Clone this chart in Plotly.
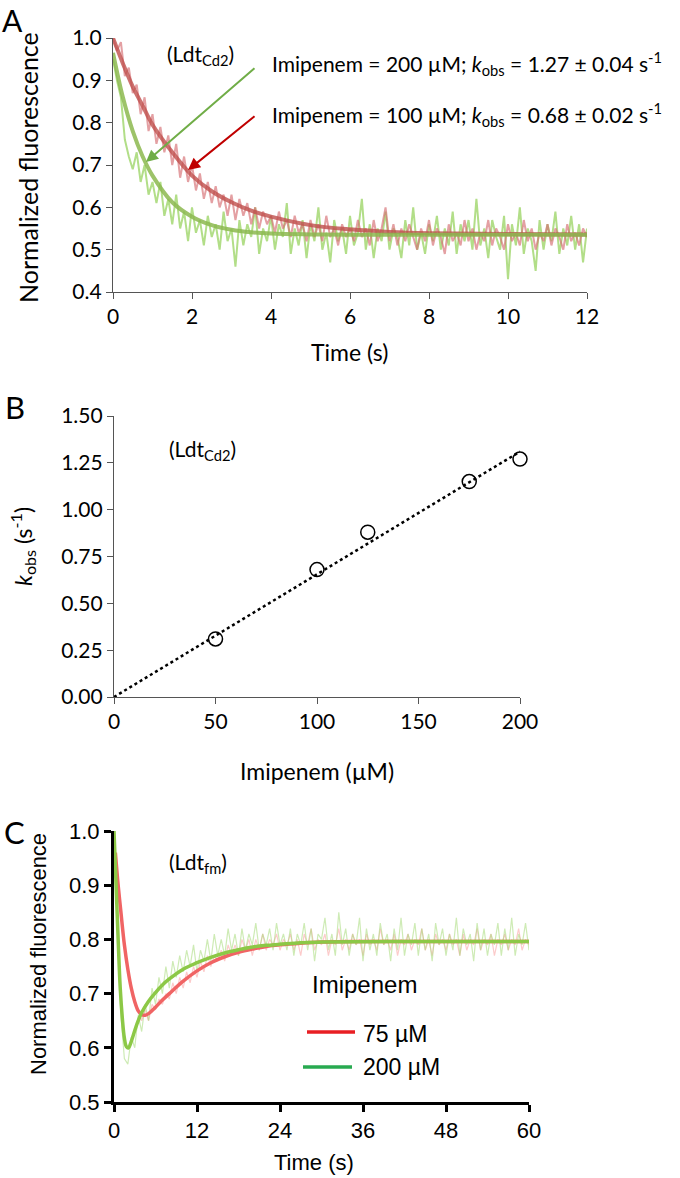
import numpy as np
import plotly.graph_objects as go

W, H = 680, 1178

# ---------------- Panel A data (LdtCd2 fluorescence decay) ----------------
a_time = np.round(np.linspace(0, 12, 121), 2)
a_raw_200 = [
    0.95, 0.90, 0.86, 0.76, 0.72, 0.69, 0.73, 0.66, 0.70, 0.63,
    0.66, 0.61, 0.66, 0.58, 0.62, 0.56, 0.63, 0.55, 0.59, 0.52,
    0.60, 0.54, 0.57, 0.51, 0.58, 0.53, 0.56, 0.50, 0.59, 0.52,
    0.55, 0.46, 0.57, 0.51, 0.56, 0.53, 0.60, 0.49, 0.55, 0.52,
    0.58, 0.50, 0.56, 0.53, 0.61, 0.49, 0.55, 0.51, 0.57, 0.48,
    0.56, 0.52, 0.60, 0.50, 0.54, 0.47, 0.57, 0.52, 0.55, 0.49,
    0.58, 0.51, 0.54, 0.62, 0.50, 0.56, 0.48, 0.55, 0.52, 0.59,
    0.50, 0.55, 0.53, 0.48, 0.57, 0.51, 0.60, 0.50, 0.54, 0.49,
    0.56, 0.52, 0.58, 0.50, 0.55, 0.51, 0.59, 0.49, 0.56, 0.52,
    0.57, 0.50, 0.62, 0.51, 0.55, 0.48, 0.57, 0.53, 0.50, 0.58,
    0.43, 0.56, 0.51, 0.60, 0.49, 0.55, 0.52, 0.45, 0.57, 0.50,
    0.56, 0.52, 0.59, 0.49, 0.55, 0.51, 0.58, 0.50, 0.56, 0.47,
    0.55,
]
a_raw_100 = [
    1.00, 0.97, 0.99, 0.91, 0.93, 0.87, 0.89, 0.82, 0.86, 0.78,
    0.82, 0.75, 0.79, 0.73, 0.77, 0.70, 0.75, 0.67, 0.72, 0.66,
    0.70, 0.64, 0.68, 0.62, 0.66, 0.61, 0.65, 0.60, 0.63, 0.58,
    0.63, 0.57, 0.62, 0.58, 0.61, 0.56, 0.60, 0.55, 0.59, 0.56,
    0.58, 0.54, 0.59, 0.55, 0.57, 0.53, 0.58, 0.54, 0.56, 0.52,
    0.57, 0.53, 0.56, 0.52, 0.58, 0.53, 0.55, 0.51, 0.56, 0.53,
    0.55, 0.52, 0.57, 0.53, 0.55, 0.51, 0.57, 0.52, 0.55, 0.60,
    0.52, 0.56, 0.51, 0.55, 0.52, 0.56, 0.53, 0.50, 0.55, 0.52,
    0.57, 0.51, 0.55, 0.53, 0.49, 0.56, 0.52, 0.54, 0.51, 0.57,
    0.52, 0.55, 0.50, 0.54, 0.52, 0.57, 0.51, 0.55, 0.53, 0.50,
    0.56, 0.52, 0.54, 0.51, 0.57, 0.52, 0.55, 0.50, 0.54, 0.52,
    0.56, 0.51, 0.55, 0.53, 0.50, 0.56, 0.52, 0.54, 0.51, 0.55,
    0.53,
]
a_fit_time_100 = [0, 0.25, 0.5, 0.75, 1, 1.5, 2, 2.5, 3, 3.5, 4, 5, 6, 7, 8, 10, 12]
a_fit_100 = [1.0, 0.94, 0.885, 0.84, 0.795, 0.73, 0.675, 0.638, 0.612, 0.592,
             0.578, 0.558, 0.548, 0.542, 0.539, 0.537, 0.536]
a_fit_time_200 = [0, 0.25, 0.5, 0.75, 1, 1.5, 2, 2.5, 3, 3.5, 4, 5, 6, 12]
a_fit_200 = [0.965, 0.86, 0.78, 0.72, 0.675, 0.612, 0.578, 0.558, 0.547, 0.541,
             0.538, 0.536, 0.535, 0.535]

# ---------------- Panel B data (kobs vs imipenem) ----------------
b_imipenem = [50, 100, 125, 175, 200]
b_kobs = [0.31, 0.68, 0.88, 1.15, 1.27]
b_fit_x = [0, 200]
b_fit_y = [0.0, 1.31]

# ---------------- Panel C data (Ldtfm) ----------------
c_time = np.round(np.linspace(0, 60, 121), 2)
c_raw_75 = [
    0.95, 0.91, 0.85, 0.79, 0.74, 0.71, 0.68, 0.67, 0.65, 0.67,
    0.65, 0.68, 0.67, 0.69, 0.68, 0.70, 0.69, 0.72, 0.70, 0.73,
    0.71, 0.74, 0.72, 0.75, 0.73, 0.76, 0.74, 0.77, 0.75, 0.77,
    0.76, 0.78, 0.76, 0.79, 0.77, 0.79, 0.77, 0.80, 0.78, 0.80,
    0.77, 0.80, 0.78, 0.81, 0.78, 0.80, 0.79, 0.81, 0.78, 0.80,
    0.79, 0.81, 0.78, 0.80, 0.77, 0.81, 0.79, 0.82, 0.78, 0.80,
    0.79, 0.81, 0.77, 0.80, 0.79, 0.82, 0.78, 0.80, 0.78, 0.81,
    0.79, 0.80, 0.77, 0.81, 0.79, 0.80, 0.78, 0.82, 0.79, 0.80,
    0.78, 0.81, 0.77, 0.80, 0.79, 0.81, 0.78, 0.80, 0.79, 0.82,
    0.78, 0.80, 0.77, 0.81, 0.79, 0.80, 0.78, 0.81, 0.79, 0.80,
    0.77, 0.81, 0.78, 0.80, 0.79, 0.82, 0.78, 0.80, 0.79, 0.81,
    0.77, 0.80, 0.79, 0.81, 0.78, 0.80, 0.79, 0.82, 0.78, 0.80,
    0.79,
]
c_raw_200 = [
    1.00, 0.82, 0.66, 0.58, 0.57, 0.62, 0.60, 0.66, 0.63, 0.68,
    0.65, 0.71, 0.68, 0.73, 0.70, 0.75, 0.71, 0.76, 0.73, 0.77,
    0.74, 0.78, 0.75, 0.79, 0.74, 0.78, 0.76, 0.80, 0.76, 0.81,
    0.77, 0.80, 0.77, 0.82, 0.78, 0.81, 0.77, 0.82, 0.78, 0.81,
    0.79, 0.83, 0.78, 0.81, 0.79, 0.82, 0.78, 0.83, 0.79, 0.81,
    0.78, 0.82, 0.77, 0.81, 0.79, 0.83, 0.78, 0.82, 0.76, 0.81,
    0.80, 0.84, 0.78, 0.81, 0.77, 0.85, 0.79, 0.82, 0.77, 0.81,
    0.79, 0.84, 0.76, 0.82, 0.78, 0.81, 0.77, 0.83, 0.79, 0.81,
    0.76, 0.82, 0.78, 0.84, 0.77, 0.81, 0.79, 0.83, 0.77, 0.82,
    0.78, 0.81, 0.76, 0.83, 0.79, 0.82, 0.77, 0.81, 0.78, 0.84,
    0.77, 0.82, 0.79, 0.81, 0.76, 0.83, 0.78, 0.82, 0.77, 0.81,
    0.79, 0.83, 0.77, 0.82, 0.78, 0.84, 0.77, 0.81, 0.79, 0.83,
    0.78,
]
c_fit_time_75 = [0.2, 0.6, 1, 1.5, 2, 2.5, 3, 3.5, 4, 4.5, 5, 6, 7, 8, 10, 12, 14,
                 16, 18, 20, 22, 24, 27, 30, 35, 40, 50, 60]
c_fit_75 = [0.96, 0.90, 0.85, 0.79, 0.745, 0.71, 0.685, 0.668, 0.661, 0.660,
            0.663, 0.675, 0.688, 0.70, 0.723, 0.742, 0.757, 0.768, 0.776, 0.782,
            0.787, 0.790, 0.793, 0.795, 0.796, 0.796, 0.796, 0.796]
c_fit_time_200 = [0, 0.3, 0.6, 0.9, 1.2, 1.5, 1.8, 2.1, 2.5, 3, 3.5, 4, 5, 6, 7,
                  8, 10, 12, 14, 16, 18, 20, 22, 24, 27, 30, 40, 60]
c_fit_200 = [1.00, 0.90, 0.80, 0.71, 0.655, 0.618, 0.602, 0.600, 0.612, 0.632,
             0.650, 0.665, 0.686, 0.702, 0.716, 0.727, 0.745, 0.757, 0.767, 0.775,
             0.781, 0.786, 0.789, 0.791, 0.794, 0.795, 0.796, 0.796]

legend_c_labels = ["75 µM", "200 µM"]
legend_c_colors = ["rgb(232,30,35)", "rgb(40,170,80)"]

FONT_A = "Lato"
FONT_C = "Liberation Sans"


def px(x):
    return x / W


def py(y):
    return 1 - y / H


fig = go.Figure()

# Panel A traces
fig.add_trace(go.Scatter(x=a_time, y=a_raw_200, mode="lines",
                         line=dict(color="rgb(178,222,136)", width=2),
                         xaxis="x", yaxis="y", showlegend=False))
fig.add_trace(go.Scatter(x=a_time, y=a_raw_100, mode="lines", opacity=0.65,
                         line=dict(color="rgb(214,110,115)", width=2),
                         xaxis="x", yaxis="y", showlegend=False))
fig.add_trace(go.Scatter(x=a_fit_time_100, y=a_fit_100, mode="lines", opacity=0.8,
                         line=dict(color="rgb(192,80,77)", width=4, shape="spline"),
                         xaxis="x", yaxis="y", showlegend=False))
fig.add_trace(go.Scatter(x=a_fit_time_200, y=a_fit_200, mode="lines", opacity=0.85,
                         line=dict(color="rgb(140,185,80)", width=4, shape="spline"),
                         xaxis="x", yaxis="y", showlegend=False))

# Panel B traces
fig.add_trace(go.Scatter(x=b_fit_x, y=b_fit_y, mode="lines",
                         line=dict(color="black", width=2.5, dash="dot"),
                         xaxis="x2", yaxis="y2", showlegend=False))
fig.add_trace(go.Scatter(x=b_imipenem, y=b_kobs, mode="markers", cliponaxis=False,
                         marker=dict(symbol="circle-open", size=14,
                                     color="black", line=dict(width=1.5)),
                         xaxis="x2", yaxis="y2", showlegend=False))

# Panel C traces
fig.add_trace(go.Scatter(x=c_time, y=c_raw_75, mode="lines",
                         line=dict(color="rgba(250,160,160,0.55)", width=1.2),
                         xaxis="x3", yaxis="y3", showlegend=False))
fig.add_trace(go.Scatter(x=c_time, y=c_raw_200, mode="lines",
                         line=dict(color="rgba(165,218,120,0.55)", width=1.2),
                         xaxis="x3", yaxis="y3", showlegend=False))
fig.add_trace(go.Scatter(x=c_fit_time_75, y=c_fit_75, mode="lines",
                         line=dict(color="rgb(240,100,100)", width=3.5, shape="spline"),
                         xaxis="x3", yaxis="y3", showlegend=False))
fig.add_trace(go.Scatter(x=c_fit_time_200, y=c_fit_200, mode="lines",
                         line=dict(color="rgb(140,200,70)", width=3.5, shape="spline"),
                         xaxis="x3", yaxis="y3", showlegend=False))

axA = dict(showline=True, linecolor="#555", linewidth=1.2, ticks="outside",
           ticklen=6, tickcolor="#555", tickwidth=1.2, showgrid=False, zeroline=False,
           automargin=False, tickfont=dict(family=FONT_A, size=21, color="black"))
axC = dict(showline=True, linecolor="black", linewidth=3, ticks="outside",
           ticklen=7, tickcolor="black", tickwidth=3, showgrid=False, zeroline=False,
           automargin=False, tickfont=dict(family=FONT_C, size=22, color="black"))

fig.update_layout(
    width=W, height=H, margin=dict(l=0, r=0, t=0, b=0, pad=0, autoexpand=False),
    paper_bgcolor="white", plot_bgcolor="white", showlegend=False,
    xaxis=dict(axA, domain=[px(113), px(587)], range=[0, 12], tickvals=[0, 2, 4, 6, 8, 10, 12],
               anchor="y"),
    yaxis=dict(axA, domain=[py(292), py(38)], range=[0.4, 1.0],
               tickvals=[0.4, 0.5, 0.6, 0.7, 0.8, 0.9, 1.0], tickformat=".1f", anchor="x"),
    xaxis2=dict(axA, domain=[px(114), px(520)], range=[0, 200],
                tickvals=[0, 50, 100, 150, 200], anchor="y2"),
    yaxis2=dict(axA, domain=[py(697), py(416)], range=[0, 1.5],
                tickvals=[0, 0.25, 0.5, 0.75, 1.0, 1.25, 1.5], tickformat=".2f", anchor="x2"),
    xaxis3=dict(axC, domain=[px(114), px(529)], range=[0, 60],
                tickvals=[0, 12, 24, 36, 48, 60], anchor="y3"),
    yaxis3=dict(axC, domain=[py(1102), py(831)], range=[0.5, 1.0],
                tickvals=[0.5, 0.6, 0.7, 0.8, 0.9, 1.0], tickformat=".1f", anchor="x3",
                layer="below traces"),
)

anns = []


def ann(x, y, text, size, family=FONT_A, xanchor="center", angle=0, color="black",
        yanchor="middle"):
    anns.append(dict(x=px(x), y=py(y), xref="paper", yref="paper", text=text,
                     showarrow=False, xanchor=xanchor, yanchor=yanchor,
                     textangle=angle, font=dict(family=family, size=size, color=color)))


# Panel A texts
ann(12, 0, "A", 30, yanchor="top")
ann(165, 55, "(Ldt<sub>Cd2</sub>)", 21, xanchor="left")
ann(270, 63, "Imipenem = 200 µM; <i>k</i><sub>obs</sub> = 1.27 ± 0.04 s<sup>-1</sup>", 21,
    xanchor="left")
ann(270, 115, "Imipenem = 100 µM; <i>k</i><sub>obs</sub> = 0.68 ± 0.02 s<sup>-1</sup>", 21,
    xanchor="left")
ann(350, 352, "Time (s)", 23)
ann(28, 168, "Normalized fluorescence", 25, angle=-90)

# Panel B texts
ann(15, 407, "B", 31)
ann(167, 450, "(Ldt<sub>Cd2</sub>)", 21, xanchor="left")
ann(317, 771, "Imipenem (µM)", 23)
ann(22, 547, "<i>k</i><sub>obs</sub> (s<sup>-1</sup>)", 23, angle=-90)

# Panel C texts
ann(14, 832, "C", 31)
ann(167, 863, "(Ldt<sub>fm</sub>)", 21, xanchor="left")
ann(38, 954, "Normalized fluorescence", 22, family=FONT_C, angle=-90)
ann(314, 1162, "Time (s)", 22, family=FONT_C)
ann(310, 984, "Imipenem", 24, family=FONT_C, xanchor="left")
ann(361, 1034, legend_c_labels[0], 23, family=FONT_C, xanchor="left")
ann(361, 1067, legend_c_labels[1], 23, family=FONT_C, xanchor="left")

# Arrows in panel A (pointing at the fitted curves)
anns.append(dict(x=0.835, y=0.707, xref="x", yref="y", ax=110, ay=-95,
                 axref="pixel", ayref="pixel", text="", showarrow=True,
                 arrowhead=2, arrowsize=1.2, arrowwidth=2, arrowcolor="rgb(112,173,71)"))
anns.append(dict(x=1.9, y=0.688, xref="x", yref="y", ax=68, ay=-55,
                 axref="pixel", ayref="pixel", text="", showarrow=True,
                 arrowhead=2, arrowsize=1.2, arrowwidth=2, arrowcolor="rgb(192,0,0)"))

fig.update_layout(annotations=anns)

# Legend keys for panel C
shapes = [
    dict(type="line", xref="paper", yref="paper", x0=px(307), x1=px(355),
         y0=py(1032), y1=py(1032), line=dict(color=legend_c_colors[0], width=3.5)),
    dict(type="line", xref="paper", yref="paper", x0=px(303), x1=px(352),
         y0=py(1067), y1=py(1067), line=dict(color=legend_c_colors[1], width=3.5)),
]
fig.update_layout(shapes=shapes)

# remove the default page margin so the figure sits at the window's top-left corner
fig.write_html("out.html", config={"displayModeBar": False},
               post_script="document.body.style.margin='0px';document.body.style.overflow='hidden';")
